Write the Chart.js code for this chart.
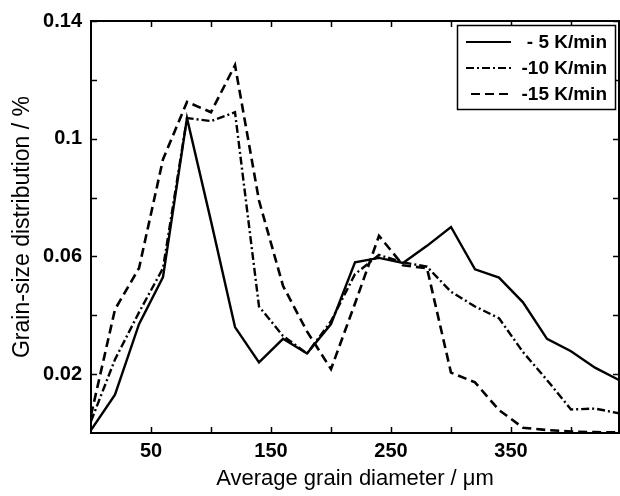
<!DOCTYPE html>
<html><head><meta charset="utf-8">
<script src="https://cdn.jsdelivr.net/npm/chart.js@4"></script>
<style>html,body{margin:0;padding:0;background:#fff;}#wrap{width:620px;height:496px;}</style>
</head><body><div id="wrap"><canvas id="c" width="620" height="496"></canvas></div>
<script>
const diameters = [0,20,40,60,80,100,120,140,160,180,200,220,240,260,280,300,320,340,360,380,400,420,440];
const rate5  = [0.001,0.013,0.037,0.053,0.107,0.072,0.036,0.024,0.032,0.027,0.037,0.058,0.0595,0.0578,0.0636,0.070,0.0556,0.0528,0.0444,0.032,0.0278,0.0222,0.018];
const rate10 = [0.004,0.025,0.041,0.056,0.107,0.106,0.109,0.043,0.033,0.027,0.038,0.054,0.0605,0.058,0.0565,0.048,0.043,0.039,0.0275,0.018,0.008,0.0083,0.0067];
const rate15 = [0.006,0.042,0.056,0.093,0.1125,0.109,0.125,0.079,0.050,0.0345,0.0217,0.044,0.067,0.057,0.056,0.0205,0.0172,0.0078,0.0018,0.001,0.0005,0.0003,0.0002];
const seriesLabels = ['- 5 K/min','-10 K/min','-15 K/min'];
const xTickValues = [50,100,150,200,250,300,350,400];
const xTickLabels = ['50','','150','','250','','350',''];
const yTickValues = [0.02,0.04,0.06,0.08,0.10,0.12,0.14];
const yTickLabels = ['0.02','','0.06','','0.1','','0.14'];

const FONT = '"Liberation Sans", Arial, Helvetica, sans-serif';
function pts(ys){ return diameters.map((d,i)=>({x:d,y:ys[i]})); }

const boxPlugin = {
  id:'boxPlugin',
  afterDatasetsDraw(chart){
    const {ctx, chartArea:{left,right,top,bottom}, scales:{x,y}} = chart;
    ctx.save();
    ctx.strokeStyle='#000';
    ctx.lineWidth=2;
    ctx.strokeRect(left,top,right-left,bottom-top);
    ctx.lineWidth=1.5;
    ctx.beginPath();
    xTickValues.forEach(v=>{
      const p = Math.round(x.getPixelForValue(v))+0.5;
      ctx.moveTo(p,bottom); ctx.lineTo(p,bottom-6);
      ctx.moveTo(p,top); ctx.lineTo(p,top+6);
    });
    yTickValues.forEach(v=>{
      const p = Math.round(y.getPixelForValue(v))+0.5;
      ctx.moveTo(left,p); ctx.lineTo(left+6,p);
      ctx.moveTo(right,p); ctx.lineTo(right-6,p);
    });
    ctx.stroke();
    // legend
    const lx0=457, ly0=25, lx1=615, ly1=109;
    ctx.fillStyle='#fff';
    ctx.fillRect(lx0,ly0,lx1-lx0,ly1-ly0);
    ctx.lineWidth=1.5;
    ctx.strokeRect(lx0+0.5,ly0+0.5,lx1-lx0,ly1-ly0);
    const rows=[42,68,94];
    const starts=[466,466,471];
    chart.data.datasets.forEach((ds,i)=>{
      ctx.beginPath();
      ctx.setLineDash(ds.borderDash||[]);
      ctx.lineWidth=2.2;
      ctx.moveTo(starts[i],rows[i]); ctx.lineTo(511,rows[i]);
      ctx.stroke();
      ctx.setLineDash([]);
      ctx.fillStyle='#000';
      ctx.font='bold 19px '+FONT;
      ctx.textAlign='right';
      ctx.textBaseline='middle';
      ctx.fillText(ds.label,607,rows[i]+1);
    });
    ctx.restore();
  }
};

new Chart(document.getElementById('c'),{
  type:'line',
  data:{datasets:[
    {label:seriesLabels[0],data:pts(rate5),borderColor:'#000',borderWidth:2.4,borderDash:[],pointRadius:0,tension:0,fill:false},
    {label:seriesLabels[1],data:pts(rate10),borderColor:'#000',borderWidth:2.4,borderDash:[8,3,2,3],pointRadius:0,tension:0,fill:false},
    {label:seriesLabels[2],data:pts(rate15),borderColor:'#000',borderWidth:2.6,borderDash:[9,5],pointRadius:0,tension:0,fill:false}
  ]},
  options:{
    responsive:false,
    animation:false,
    devicePixelRatio:1,
    layout:{padding:{left:0,top:15,right:1,bottom:0}},
    plugins:{legend:{display:false},tooltip:{enabled:false}},
    scales:{
      x:{type:'linear',min:0,max:440,
        afterBuildTicks:s=>{s.ticks=xTickValues.map(v=>({value:v}));},
        afterFit:s=>{s.height=63;},
        ticks:{callback:(v,i)=>xTickLabels[i],font:{family:FONT,size:20,weight:'bold'},color:'#000',padding:6,maxRotation:0,autoSkip:false},
        grid:{display:false,drawTicks:false},
        border:{display:false},
        title:{display:true,text:'Average grain diameter / \u03bcm',font:{family:FONT,size:22},color:'#000',padding:{top:0,bottom:4}}
      },
      y:{type:'linear',min:0,max:0.14,
        afterBuildTicks:s=>{s.ticks=yTickValues.map(v=>({value:v}));},
        afterFit:s=>{s.width=91;},
        ticks:{callback:(v,i)=>yTickLabels[i],font:{family:FONT,size:20,weight:'bold'},color:'#000',padding:9,autoSkip:false},
        grid:{display:false,drawTicks:false},
        border:{display:false},
        title:{display:true,text:'Grain-size distribution / %',font:{family:FONT,size:23},color:'#000',padding:{top:9,bottom:0}}
      }
    }
  },
  plugins:[boxPlugin]
});
</script></body></html>
